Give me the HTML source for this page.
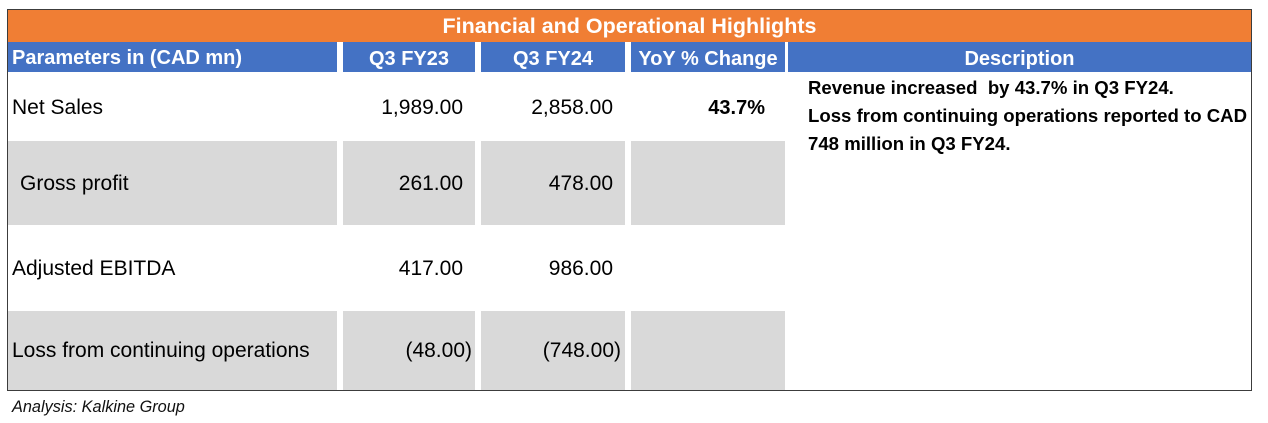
<!DOCTYPE html>
<html>
<head>
<meta charset="utf-8">
<style>
  html, body { margin: 0; padding: 0; }
  body { width: 1268px; height: 423px; background: #ffffff; position: relative; overflow: hidden;
         font-family: "Liberation Sans", Arial, sans-serif; color: #000; }
  .abs { position: absolute; }
  .t { position: absolute; white-space: nowrap; line-height: 30px; height: 30px; }
  .orange { background: #F07E34; }
  .blue { background: #4472C4; }
  .gray { background: #D9D9D9; }
  .hdr { color: #fff; font-weight: bold; font-size: 20px; }
  .body { font-size: 21px; }
  .desc { font-size: 18.6px; font-weight: bold; }
</style>
</head>
<body>
  <!-- outer border -->
  <div class="abs" style="left:7px; top:9px; width:1245px; height:382px; box-sizing:border-box; border:1px solid #3c3c3c;"></div>

  <!-- orange title band -->
  <div class="abs orange" style="left:8px; top:10px; width:1243px; height:32px;"></div>
  <div class="t" style="left:8px; width:1243px; top:11px; text-align:center; color:#fff; font-weight:bold; font-size:21.5px;">Financial and Operational Highlights</div>

  <!-- blue header cells -->
  <div class="abs blue" style="left:8px; top:42px; width:329px; height:30px;"></div>
  <div class="abs blue" style="left:343px; top:42px; width:132px; height:30px;"></div>
  <div class="abs blue" style="left:481px; top:42px; width:144px; height:30px;"></div>
  <div class="abs blue" style="left:631px; top:42px; width:154px; height:30px;"></div>
  <div class="abs blue" style="left:788px; top:42px; width:463px; height:30px;"></div>

  <div class="t hdr" style="left:12px; top:43px;">Parameters in (CAD mn)</div>
  <div class="t hdr" style="left:343px; width:132px; top:44px; text-align:center;">Q3 FY23</div>
  <div class="t hdr" style="left:481px; width:144px; top:44px; text-align:center;">Q3 FY24</div>
  <div class="t hdr" style="left:631px; width:154px; top:44px; text-align:center;">YoY % Change</div>
  <div class="t hdr" style="left:788px; width:463px; top:44px; text-align:center;">Description</div>

  <!-- gray rows -->
  <div class="abs gray" style="left:8px; top:141px; width:329px; height:84px;"></div>
  <div class="abs gray" style="left:343px; top:141px; width:132px; height:84px;"></div>
  <div class="abs gray" style="left:481px; top:141px; width:144px; height:84px;"></div>
  <div class="abs gray" style="left:631px; top:141px; width:154px; height:84px;"></div>

  <div class="abs gray" style="left:8px; top:311px; width:329px; height:79px;"></div>
  <div class="abs gray" style="left:343px; top:311px; width:132px; height:79px;"></div>
  <div class="abs gray" style="left:481px; top:311px; width:144px; height:79px;"></div>
  <div class="abs gray" style="left:631px; top:311px; width:154px; height:79px;"></div>

  <!-- row 1 -->
  <div class="t body" style="left:12px; top:93px;">Net Sales</div>
  <div class="t body" style="right:805px; top:93px; text-align:right;">1,989.00</div>
  <div class="t body" style="right:655px; top:93px; text-align:right;">2,858.00</div>
  <div class="t body" style="right:503px; top:93px; text-align:right; font-weight:bold; font-size:20px;">43.7%</div>

  <!-- row 2 -->
  <div class="t body" style="left:20px; top:169px;">Gross profit</div>
  <div class="t body" style="right:805px; top:169px; text-align:right;">261.00</div>
  <div class="t body" style="right:655px; top:169px; text-align:right;">478.00</div>

  <!-- row 3 -->
  <div class="t body" style="left:12px; top:254px;">Adjusted EBITDA</div>
  <div class="t body" style="right:805px; top:254px; text-align:right;">417.00</div>
  <div class="t body" style="right:655px; top:254px; text-align:right;">986.00</div>

  <!-- row 4 -->
  <div class="t body" style="left:12px; top:336px;">Loss from continuing operations</div>
  <div class="t body" style="right:796px; top:336px; text-align:right;">(48.00)</div>
  <div class="t body" style="right:647px; top:336px; text-align:right;">(748.00)</div>

  <!-- description -->
  <div class="t desc" style="left:808px; top:73px;">Revenue increased&nbsp; by 43.7% in Q3 FY24.</div>
  <div class="t desc" style="left:808px; top:101px;">Loss from continuing operations reported to CAD</div>
  <div class="t desc" style="left:808px; top:129px;">748 million in Q3 FY24.</div>

  <!-- footer -->
  <div class="t" style="left:12px; top:392px; font-style:italic; font-size:16.3px; color:#111;">Analysis: Kalkine Group</div>
</body>
</html>
